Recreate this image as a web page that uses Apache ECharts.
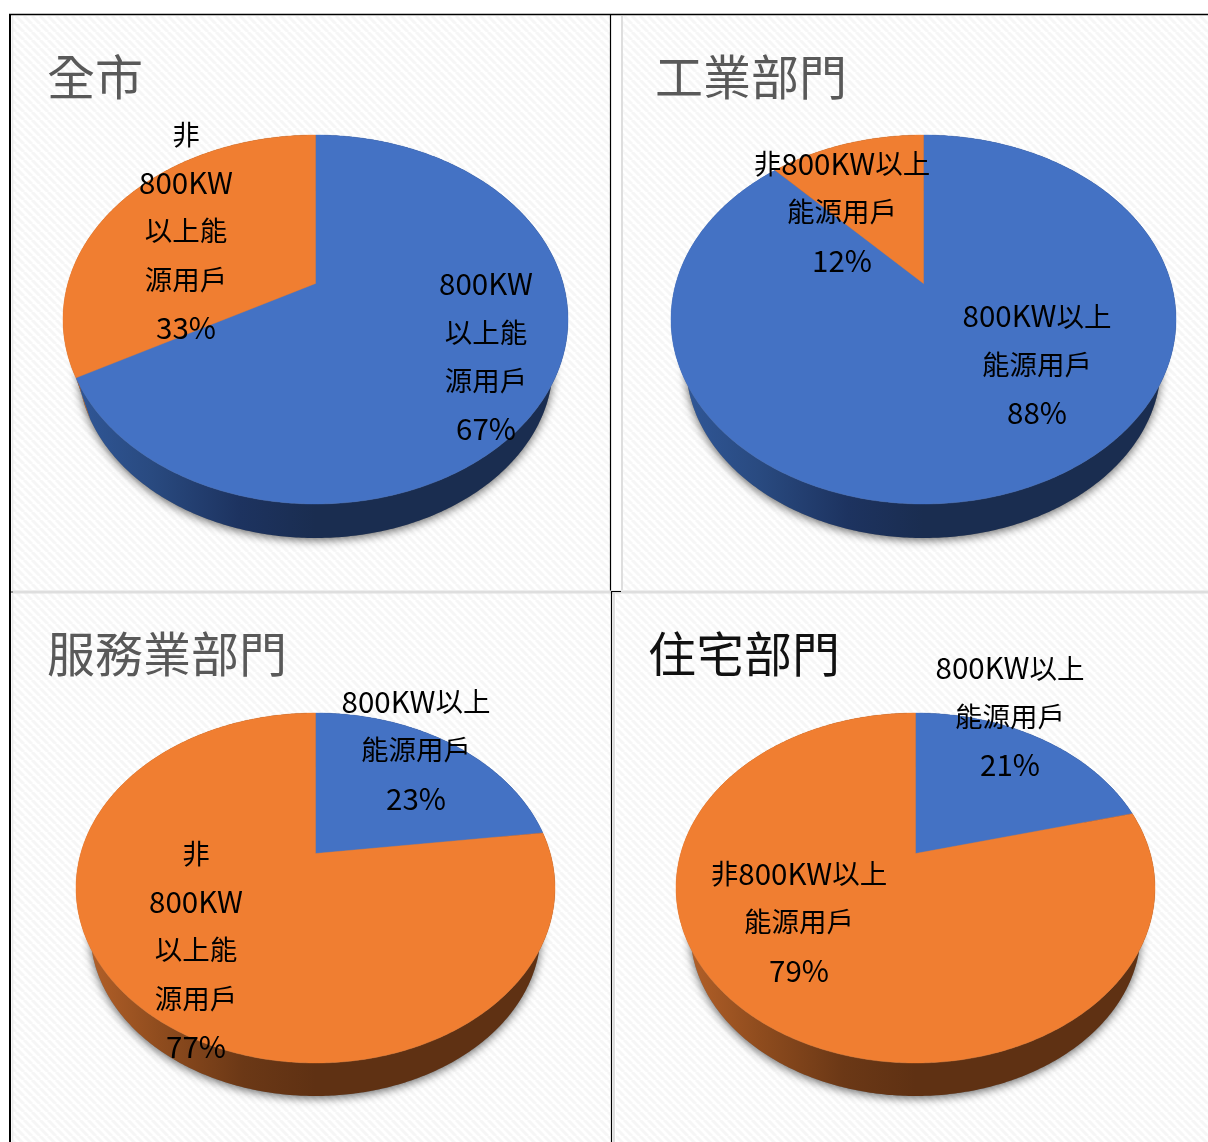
<!DOCTYPE html>
<html>
<head>
<meta charset="utf-8">
<style>html,body{margin:0;padding:0;background:#fff}#chart{width:1208px;height:1142px}</style>
<script src="https://cdn.jsdelivr.net/npm/echarts@6/dist/echarts.min.js"></script>
</head>
<body>
<div id="chart"></div>
<script>
// Share of electricity use by customer class, per sector (percent)
const sectors = ['全市', '工業部門', '服務業部門', '住宅部門'];
const above800kW = [67, 88, 23, 21];
const below800kW = [33, 12, 77, 79];

// Wrapped label text for each sector
const aboveLabels = [
  ['800KW', '以上能', '源用戶'],
  ['800KW以上', '能源用戶'],
  ['800KW以上', '能源用戶'],
  ['800KW以上', '能源用戶']
];
const belowLabels = [
  ['非', '800KW', '以上能', '源用戶'],
  ['非800KW以上', '能源用戶'],
  ['非', '800KW', '以上能', '源用戶'],
  ['非800KW以上', '能源用戶']
];

// Placement of each disc: bounding box of its top face and the projected pie centre
const discs = [
  { left: 63, right: 568, top: 135, bottom: 504, apex: 283.5, base: 538, labelAt: [[486, 356.5], [186, 231]] },
  { left: 671, right: 1176, top: 135, bottom: 504, apex: 283.5, base: 538, labelAt: [[1037, 364.5], [842, 212]] },
  { left: 76, right: 555, top: 713, bottom: 1063, apex: 853.5, base: 1096, labelAt: [[416, 750], [196, 950]] },
  { left: 676, right: 1155, top: 713, bottom: 1063, apex: 853.5, base: 1096, labelAt: [[1010, 716.5], [799, 922]] }
];
const rimScale = 0.94;
const titleSpots = [[47, 53], [655, 53], [47, 630], [648, 630]];
const titleColors = ['#595959', '#595959', '#595959', '#111111'];

const blueTop = '#4472c4', orangeTop = '#f07e31';
const blueSide = [[0, '#31599b'], [0.35, '#294a80'], [0.7, '#1d3360'], [1, '#1a2d50']];
const orangeSide = [[0, '#b8632a'], [0.35, '#8f4c1e'], [0.7, '#6b3816'], [1, '#5f3113']];
const labelFont = '"Noto Sans CJK TC", "Noto Sans", sans-serif';

// Perspective projection of a unit disc tilted away from the viewer
function makeProjector(d) {
  const ratio = (d.bottom - d.apex) / (d.apex - d.top);
  const p = (ratio - 1) / (ratio + 1);
  const h = (d.apex - d.top) * (1 + p);
  const R = (d.right - d.left) / 2 * Math.sqrt(1 - p * p);
  const cx = (d.left + d.right) / 2;
  return function (theta) {
    const u = Math.sin(theta), v = Math.cos(theta), w = 1 + p * v;
    return [cx + R * u / w, d.apex - h * v / w];
  };
}

// The lower rim recedes towards the vanishing point, so it is a smaller copy of the top rim
function makeLowering(d) {
  const cx = (d.left + d.right) / 2;
  const midY = (d.top + d.bottom) / 2;
  const ry = (d.bottom - d.top) / 2;
  const lowMid = d.base - ry * rimScale;
  return function (q) {
    return [cx + (q[0] - cx) * rimScale, lowMid + (q[1] - midY) * rimScale];
  };
}

function arcPoints(project, from, to) {
  const n = Math.max(4, Math.ceil((to - from) / 0.01));
  const pts = [];
  for (let i = 0; i <= n; i++) pts.push(project(from + (to - from) * i / n));
  return pts;
}

// Rich-text markup: Latin runs are set a little larger than the CJK runs
function markup(line) {
  return line.replace(/[0-9A-Za-z%]+|[^0-9A-Za-z%]+/g, function (run) {
    return (/^[0-9A-Za-z%]/.test(run) ? '{latin|' : '{cjk|') + run + '}';
  });
}

function renderSlice(panel, params, api) {
  const d = discs[panel];
  const project = makeProjector(d);
  const lower = makeLowering(d);
  const cx = (d.left + d.right) / 2;
  const idx = params.dataIndex;
  const shares = [above800kW[panel], below800kW[panel]];
  const total = shares[0] + shares[1];
  const value = api.value(0);
  const startShare = idx === 0 ? 0 : shares[0];
  const from = startShare / total * Math.PI * 2;
  const to = (startShare + value) / total * Math.PI * 2;
  const arc = arcPoints(project, from, to);
  const lowered = arc.map(lower).reverse();
  const sideStops = idx === 0 ? blueSide : orangeSide;
  const children = [];

  // Soft drop shadow under the whole disc, drawn once per panel
  if (idx === 0) {
    const rim = arcPoints(project, 0, Math.PI * 2).map(lower);
    children.push({
      type: 'polygon', z2: 0, shape: { points: rim },
      style: { fill: '#777', shadowColor: 'rgba(0,0,0,0.6)', shadowBlur: 10, shadowOffsetY: 2 }
    });
  }

  // Outer wall of the slice, shaded from the left towards the front
  children.push({
    type: 'polygon', z2: 1, shape: { points: arc.concat(lowered) },
    style: {
      fill: {
        type: 'linear', global: true,
        x: d.left, y: 0, x2: cx, y2: 0,
        colorStops: sideStops.map(function (s) { return { offset: s[0], color: s[1] }; })
      }
    }
  });

  // Top face of the slice
  const topColor = idx === 0 ? blueTop : orangeTop;
  children.push({
    type: 'polygon', z2: 2, shape: { points: [[cx, d.apex]].concat(arc) },
    style: { fill: topColor, stroke: topColor, lineWidth: 0.4 }
  });

  // Category name and percentage
  const lines = (idx === 0 ? aboveLabels : belowLabels)[panel].concat([value + '%']);
  children.push({
    type: 'text', z2: 5,
    x: d.labelAt[idx][0], y: d.labelAt[idx][1],
    style: {
      text: lines.map(markup).join('\n'), align: 'center', verticalAlign: 'middle',
      fill: '#000',
      rich: {
        latin: { fontFamily: labelFont, fontSize: 29.5, lineHeight: 48.4, fill: '#000' },
        cjk: { fontFamily: labelFont, fontSize: 27.5, lineHeight: 48.4, fill: '#000' }
      }
    }
  });
  return { type: 'group', children: children };
}

// Diagonal pinstripe used as the panel background
function hatchTile() {
  const size = 8;
  const c = document.createElement('canvas');
  c.width = c.height = size;
  const g = c.getContext('2d');
  g.fillStyle = '#ffffff';
  g.fillRect(0, 0, size, size);
  g.strokeStyle = '#f6f6f6';
  g.lineWidth = 3;
  for (let o = -size; o <= size; o += size) {
    g.beginPath();
    g.moveTo(o, 0);
    g.lineTo(o + size, size);
    g.stroke();
  }
  return c;
}

const hatch = { image: hatchTile(), repeat: 'repeat' };
const hatchRect = function (x, y, w, h) {
  return { type: 'rect', silent: true, z: 0, shape: { x: x, y: y, width: w, height: h }, style: { fill: hatch } };
};
const rule = function (x1, y1, x2, y2, color, width) {
  return { type: 'line', silent: true, z: 1, shape: { x1: x1, y1: y1, x2: x2, y2: y2 }, style: { stroke: color, lineWidth: width } };
};

const chart = echarts.init(document.getElementById('chart'), null, { renderer: 'canvas' });
chart.setOption({
  backgroundColor: '#ffffff',
  animation: false,
  title: sectors.map(function (name, i) {
    return {
      text: name, left: titleSpots[i][0], top: titleSpots[i][1], padding: 0,
      textStyle: { fontFamily: labelFont, fontSize: 48, fontWeight: 400, color: titleColors[i] }
    };
  }),
  graphic: [
    hatchRect(13, 16, 597, 574),
    hatchRect(623, 16, 585, 574),
    hatchRect(13, 593, 597, 549),
    hatchRect(616, 593, 592, 549),
    rule(10, 14, 10, 1142, '#000', 2),
    rule(9, 14.5, 1208, 14.5, '#000', 1.5),
    rule(610.5, 15, 610.5, 592, '#000', 1.2),
    rule(622, 16, 622, 590, '#dedede', 2),
    rule(12.5, 16, 12.5, 1142, '#ececec', 1.5),
    rule(13, 592, 1208, 592, '#dedede', 3),
    rule(11, 592, 13, 592, '#333', 1),
    rule(611, 591.5, 621, 591.5, '#000', 1),
    rule(611.5, 592, 611.5, 1142, '#000', 1.2),
    rule(614, 593, 614, 1142, '#dedede', 2)
  ],
  series: sectors.map(function (name, panel) {
    return {
      type: 'custom',
      name: name,
      coordinateSystem: 'none',
      silent: true,
      renderItem: function (params, api) { return renderSlice(panel, params, api); },
      encode: { value: 0 },
      data: [[above800kW[panel]], [below800kW[panel]]]
    };
  })
});
</script>
</body>
</html>
